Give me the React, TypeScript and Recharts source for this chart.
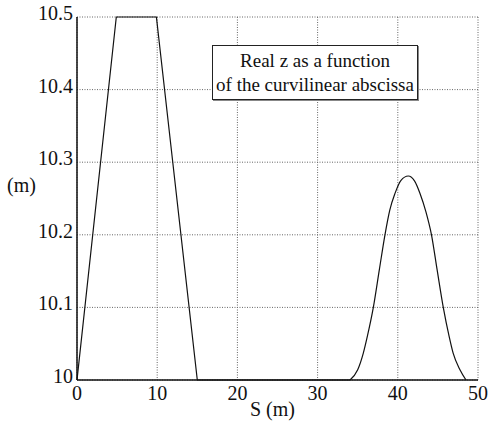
import React from 'react';
import { LineChart, Line, XAxis, YAxis, CartesianGrid } from 'recharts';

// profile: ramp up, plateau, ramp down, then flat along the bottom
const rampS = [0, 4.9, 9.9, 15.0, 34.04];
const rampZ = [10, 10.5, 10.5, 10, 10];

// the bump near the end of the track
const bumpS = [34.04, 35.0, 35.7, 36.2, 36.95, 37.7, 38.4, 39.0, 39.65, 40.4, 41.3, 42.1, 42.77, 43.5, 44.2, 44.9, 45.67, 46.4, 46.9, 47.75, 48.5];
const bumpZ = [10, 10.014, 10.037, 10.06, 10.1, 10.152, 10.2, 10.234, 10.257, 10.275, 10.281, 10.274, 10.257, 10.232, 10.2, 10.152, 10.1, 10.06, 10.037, 10.014, 10];

const sTicks = [0, 10, 20, 30, 40, 50];
const zTicks = [10, 10.1, 10.2, 10.3, 10.4, 10.5];

const rampData = rampS.map((s, i) => ({ s, z: rampZ[i] }));
const bumpData = bumpS.map((s, i) => ({ s, z: bumpZ[i] }));

const font = '"Liberation Serif", "Times New Roman", serif';

const XTick = (props: any) => {
  const { x, y, payload } = props;
  return (
    <text x={x} y={y} dy={20} textAnchor="middle" fontFamily={font} fontSize={20} fill="#111">
      {payload.value}
    </text>
  );
};

const YTick = (props: any) => {
  const { x, y, payload } = props;
  const v: number = payload.value;
  return (
    <text x={x} y={y} dy={3} textAnchor="end" fontFamily={font} fontSize={20} fill="#111">
      {v === 10 ? '10' : v.toFixed(1)}
    </text>
  );
};

const App: React.FC = () => {
  return (
    <div style={{ position: 'absolute', left: 0, top: 0, width: 488, height: 431, background: '#fff' }}>
      <LineChart width={488} height={431} margin={{ top: 17, right: 10, bottom: 21, left: 0 }}>
        <CartesianGrid stroke="#666" strokeDasharray="1 1.5" strokeWidth={1} />
        <XAxis
          type="number"
          dataKey="s"
          domain={[0, 50]}
          ticks={sTicks}
          height={30}
          tickLine={false}
          tickSize={0}
          tickMargin={0}
          axisLine={{ stroke: '#111', strokeWidth: 1.5 }}
          tick={<XTick />}
          interval={0}
        />
        <YAxis
          type="number"
          dataKey="z"
          domain={[10, 10.5]}
          ticks={zTicks}
          width={77}
          tickLine={false}
          tickSize={0}
          tickMargin={4}
          axisLine={{ stroke: '#111', strokeWidth: 1.5 }}
          tick={<YTick />}
          interval={0}
        />
        <Line data={rampData} dataKey="z" type="linear" stroke="#111" strokeWidth={1.2} dot={false} isAnimationActive={false} />
        <Line data={bumpData} dataKey="z" type="monotone" stroke="#111" strokeWidth={1.2} dot={false} isAnimationActive={false} />
      </LineChart>
      <div style={{ position: 'absolute', left: 7, top: 174, fontFamily: font, fontSize: 20, color: '#111' }}>(m)</div>
      <div style={{ position: 'absolute', left: 250, top: 398, fontFamily: font, fontSize: 20, color: '#111' }}>S (m)</div>
      <div
        style={{
          position: 'absolute',
          left: 212,
          top: 45,
          width: 206,
          height: 55,
          border: '1.2px solid #222',
          boxShadow: '1px 1px 0 #888',
          background: '#fff',
          fontFamily: font,
          fontSize: 19,
          lineHeight: '24px',
          textAlign: 'center',
          color: '#111',
          paddingTop: 3,
          boxSizing: 'border-box',
        }}
      >
        Real z as a function
        <br />
        of the curvilinear abscissa
      </div>
    </div>
  );
};

export default App;
